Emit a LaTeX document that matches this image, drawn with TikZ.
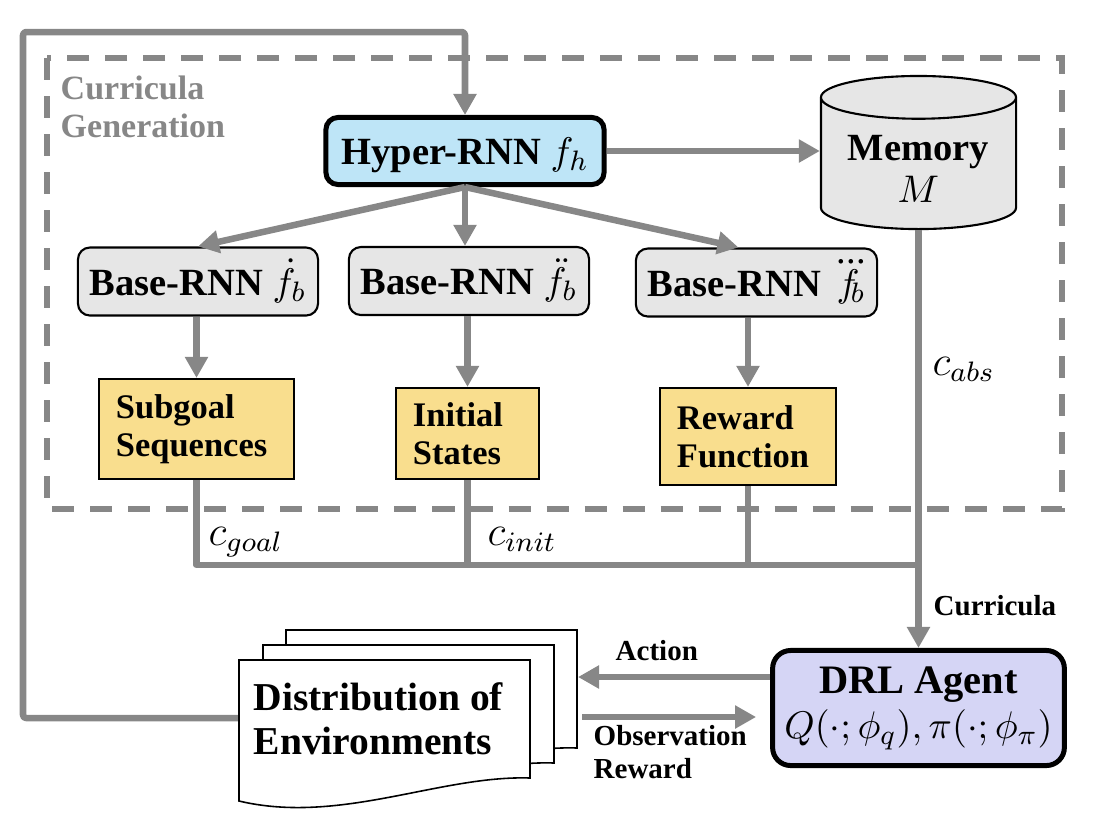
\documentclass[tikz,border=0pt]{standalone}
\usepackage{amsmath}
\usepackage{fontspec}
\setmainfont{Liberation Serif}
\usetikzlibrary{arrows.meta,shapes.geometric}
\definecolor{linegray}{HTML}{878787}
\definecolor{hyperblue}{HTML}{BEE5F7}
\definecolor{basegray}{HTML}{E6E6E6}
\definecolor{outyellow}{HTML}{F9DE8E}
\definecolor{agentblue}{HTML}{D5D5F5}
\begin{document}
\begin{tikzpicture}[x=0.01cm, y=-0.01cm,
		flow/.style={draw=linegray, line width=1.85pt, line join=round},
		arrow/.style={flow, -{Triangle[length=0.21cm, width=0.22cm]}},
		big/.style={font=\fontsize{10.95}{12}\selectfont\bfseries},
		small/.style={font=\fontsize{9.8}{10.8}\selectfont\bfseries},
		tag/.style={font=\fontsize{8.25}{9.4}\selectfont\bfseries, inner sep=0pt},
		sym/.style={font=\fontsize{12}{14}\selectfont, inner sep=0pt},
		hyperbox/.style={big, draw, line width=1.42pt, fill=hyperblue, rounded corners=0.12cm, minimum width=2.78cm, minimum height=0.67cm, text height=0.26cm, text depth=0pt},
		basebox/.style={big, draw, line width=0.6pt, fill=basegray, rounded corners=0.12cm, minimum width=2.40cm, minimum height=0.68cm, text height=0.27cm, text depth=0pt},
		outbox/.style={small, draw, line width=0.6pt, fill=outyellow, align=left, inner xsep=0.17cm},
		doc/.style={draw, line width=0.45pt, fill=white}]
		\useasboundingbox (0,0) rectangle (1096,832);
		% Rahmen Curricula Generation
		\draw[linegray, line width=1.56pt, dash pattern=on 0.22cm off 0.16cm] (47,58) rectangle (1062,509);
		\node[anchor=north west, inner sep=0pt, align=left, text=linegray, font=\fontsize{9.67}{10.8}\selectfont\bfseries] (gen) at (60,75) {Curricula\\Generation};
		% Netze
		\node[hyperbox] (hyper) at (465,151) {Hyper-RNN $f_h$};
		\node[big, cylinder, shape border rotate=90, aspect=0.26, draw, line width=0.6pt, fill=basegray, minimum width=1.95cm, minimum height=1.53cm, align=center, anchor=shape center] (mem) at (918.5,152.5) {Memory\\$M$};
		\node[basebox] (base1) at (198,281.5) {Base-RNN $\dot{f}_b$};
		\node[basebox] (base2) at (469,281) {Base-RNN $\ddot{f}_b$};
		\node[basebox] (base3) at (756.5,282.5) {Base-RNN ${\dddot{f}}\mkern-7mu{}_b$};
		% Ausgaben
		\node[outbox, text width=1.61cm, minimum height=1.00cm] (sub) at (196.5,429) {Subgoal\\Sequences};
		\node[outbox, text width=1.09cm, minimum height=0.91cm] (init) at (467.5,433.5) {Initial\\States};
		\node[outbox, text width=1.42cm, minimum height=0.97cm] (rew) at (748,436.5) {Reward\\Function};
		% Agent
		\node[draw, line width=1.42pt, fill=agentblue, rounded corners=0.18cm, minimum width=2.88cm, minimum height=1.15cm, align=center, font=\fontsize{11.5}{12.8}\selectfont\bfseries] (agent) at (918.5,708) {DRL Agent\\{\fontsize{10.8}{12.8}\selectfont$Q(\cdot;\phi_q),\pi(\cdot;\phi_\pi)$}};
		\coordinate (doc) at (239,718);
		\coordinate (join) at (918,565);
		\coordinate (act) at (578,677);
		\coordinate (obs) at (582,717);
		% Rueckkopplung
		\draw[arrow, rounded corners=0.03cm] (doc) -| (23,32) -| (hyper.north);
		% Pfeile oben
		\draw[arrow] (hyper.east) -- (hyper.east -| mem.west);
		\draw[arrow] (hyper.south) -- (base1.north);
		\draw[arrow] (hyper.south) -- (hyper.south |- base2.north);
		\draw[arrow] (hyper.south) -- ([xshift=-0.18cm]base3.north);
		\draw[arrow] (base1.south -| sub.north) -- (sub.north);
		\draw[arrow] (base2.south -| init.north) -- (init.north);
		\draw[arrow] (base3.south -| rew.north) -- (rew.north);
		% Sammelleitung
		\draw[flow] (sub.south) |- (join);
		\draw[flow] (init.south) -- (init.south |- join);
		\draw[flow] (rew.south) -- (rew.south |- join);
		\draw[arrow] (mem.south) -- (mem.south |- agent.north);
		\draw[arrow] (agent.west |- act) -- (act);
		\draw[arrow, shorten >=0.14cm] (obs) -- (obs -| agent.west);
		% Umgebungen
		\foreach \dx/\dy in {47/30,24/15,0/0} {
			\draw[doc, shift={(\dx,-\dy)}] (239,660) -- (530,660) -- (530,778) .. controls (440,775) and (340,825) .. (239,801) -- cycle;
		}
		\node[anchor=north west, inner sep=0pt, align=left, font=\fontsize{11.24}{12.5}\selectfont\bfseries] (env) at (253,682) {Distribution of\\Environments};
		% Beschriftungen
		\node[sym, anchor=base west] (cgoal) at (208,545) {$c_{goal}$};
		\node[sym, anchor=base west] (cinit) at (487,545) {$c_{init}$};
		\node[sym, anchor=base west] (cabs) at (932,375) {$c_{abs}$};
		\node[tag, anchor=base west] (lcur) at (933,615) {Curricula};
		\node[tag, anchor=base west] (lact) at (615,660) {Action};
		\node[tag, anchor=north west, align=left] (lobs) at (593,725) {Observation\\Reward};
\end{tikzpicture}
\end{document}
